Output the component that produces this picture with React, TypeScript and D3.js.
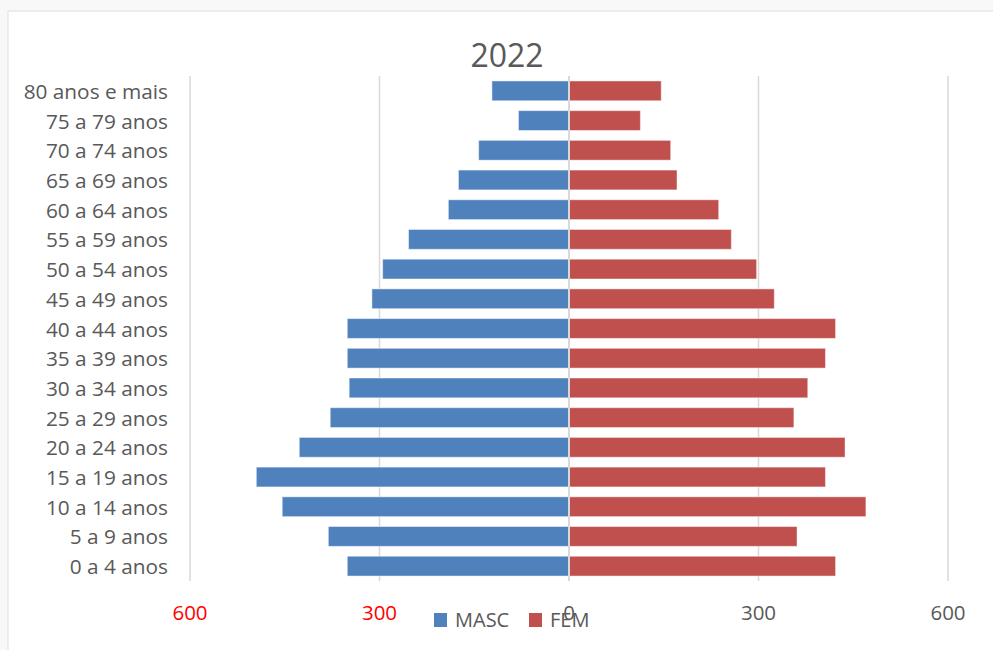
import React from "react";
import * as d3 from "d3";

const categories = [
  "80 anos e mais", "75 a 79 anos", "70 a 74 anos", "65 a 69 anos", "60 a 64 anos",
  "55 a 59 anos", "50 a 54 anos", "45 a 49 anos", "40 a 44 anos", "35 a 39 anos",
  "30 a 34 anos", "25 a 29 anos", "20 a 24 anos", "15 a 19 anos", "10 a 14 anos",
  "5 a 9 anos", "0 a 4 anos",
];
const masc = [122, 80, 143, 175, 191, 254, 295, 312, 351, 351, 348, 378, 427, 495, 454, 381, 351];
const fem = [146, 113, 161, 171, 237, 257, 297, 325, 422, 406, 378, 356, 437, 406, 470, 361, 422];
const ticks = [-600, -300, 0, 300, 600];
const title = "2022";
const seriesNames = ["MASC", "FEM"];

const W = 993;
const H = 650;
const FONT = "'Open Sans', sans-serif";
const TEXT = "#595959";
const BLUE = "#4F81BD";
const RED = "#C0504D";
const GRID = "#D9D9D9";

export default function App() {
  const x = d3.scaleLinear().domain([-600, 600]).range([190, 948]);
  const y = d3
    .scaleBand<string>()
    .domain(categories)
    .range([76, 581])
    .paddingInner(1 / 3)
    .paddingOuter(1 / 6);
  const bw = y.bandwidth();

  return (
    <svg
      width={W}
      height={H}
      style={{ position: "absolute", left: 0, top: 0, fontFamily: FONT }}
    >
      <rect x={0} y={0} width={W} height={H} fill="#F7F8F7" />
      <rect x={8} y={11} width={W + 20} height={H + 20} fill="#FFFFFF" stroke="#E3E3E3" strokeWidth={1.2} />

      {ticks.map((t) => (
        <line key={"g" + t} x1={x(t)} x2={x(t)} y1={76} y2={581} stroke={GRID} strokeWidth={1.5} />
      ))}

      {categories.map((c, i) => (
        <g key={c}>
          <rect
            x={x(-masc[i])}
            y={y(c)}
            width={x(0) - x(-masc[i])}
            height={bw}
            fill={BLUE}
            stroke="rgba(255,255,255,0.45)"
            strokeWidth={1}
          />
          <rect
            x={x(0)}
            y={y(c)}
            width={x(fem[i]) - x(0)}
            height={bw}
            fill={RED}
            stroke="rgba(255,255,255,0.45)"
            strokeWidth={1}
          />
          <text
            x={168}
            y={(y(c) as number) + bw / 2}
            textAnchor="end"
            dominantBaseline="central"
            fontSize={20.8}
            fill={TEXT}
          >
            {c}
          </text>
        </g>
      ))}

      <line x1={x(0)} x2={x(0)} y1={76} y2={581} stroke={GRID} strokeWidth={2} />

      {ticks.map((t) => (
        <text
          key={"t" + t}
          x={x(t)}
          y={620}
          textAnchor="middle"
          fontSize={20.5}
          fill={t < 0 ? "#FF0000" : TEXT}
        >
          {Math.abs(t)}
        </text>
      ))}

      <text x={507} y={67} textAnchor="middle" fontSize={32} fill={TEXT}>
        {title}
      </text>

      <rect x={434} y={613} width={13} height={14} fill={BLUE} />
      <text x={455} y={627} fontSize={20} fill={TEXT}>
        {seriesNames[0]}
      </text>
      <rect x={529} y={613} width={13} height={14} fill={RED} />
      <text x={550} y={627} fontSize={20} fill={TEXT}>
        {seriesNames[1]}
      </text>
    </svg>
  );
}
